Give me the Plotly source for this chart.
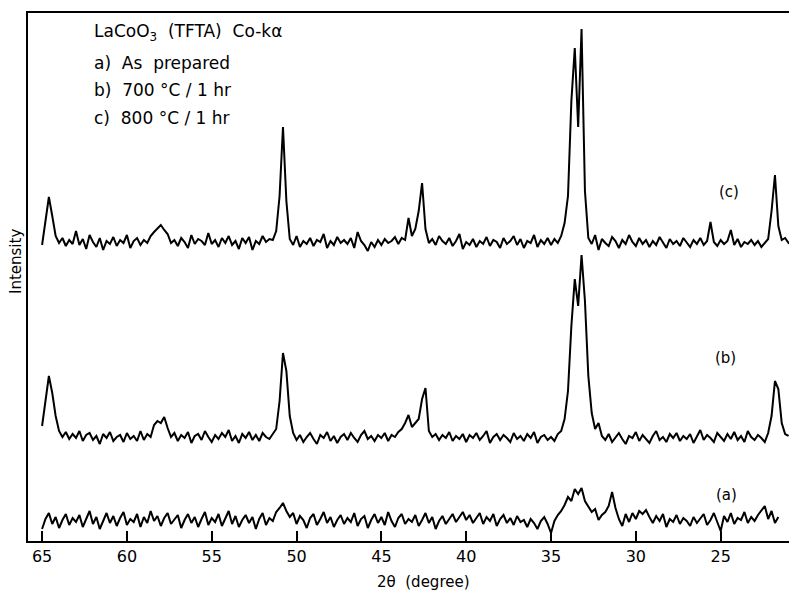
import plotly.graph_objects as go

# 2-theta grid (degrees), step 0.2 from 65.0 downward
two_theta = [round(65.0 - 0.2 * i, 1) for i in range(222)]

# (c) 800 C / 1 hr
intensity_c = [
    296, 318, 344, 325, 305, 298, 303, 295, 301, 297,
    310, 296, 302, 292, 306, 299, 294, 303, 291, 300,
    297, 304, 295, 301, 298, 306, 293, 300, 303, 296,
    301, 298, 305, 309, 312, 316, 311, 307, 298, 301,
    295, 303, 299, 293, 306, 297, 302, 300, 296, 308,
    297, 301, 294, 303, 298, 305, 296, 300, 292, 303,
    298, 304, 291, 300, 297, 305, 299, 302, 301, 310,
    345, 414, 340, 302, 296, 305, 294, 300, 297, 303,
    295, 301, 299, 307, 293, 300, 296, 304, 298, 301,
    297, 303, 293, 309, 300, 296, 290, 299, 294, 301,
    296, 302, 298, 300, 304, 297, 303, 301, 323, 305,
    312, 330, 358, 312, 298, 302, 296, 305, 300, 297,
    303, 295, 300, 307, 292, 299, 296, 302, 294, 300,
    297, 304, 295, 301, 299, 293, 303, 297, 300, 305,
    296, 302, 293, 300, 298, 306, 294, 301, 297, 303,
    296, 302, 298, 305, 318, 345, 440, 493, 414, 512,
    350, 303, 297, 306, 291, 302, 298, 295, 304, 300,
    293, 301, 297, 306, 299, 295, 303, 297, 301, 294,
    300, 296, 304, 298, 293, 302, 297, 300, 295, 303,
    298, 294, 301, 297, 303, 296, 300, 319, 299, 295,
    301, 297, 300, 311, 296, 302, 294, 299, 297, 301,
    296, 300, 294, 298, 302, 330, 366, 315, 301, 303,
    298, 300,
]

# (b) 700 C / 1 hr
intensity_b = [
    115, 140, 165, 148, 125, 110, 104, 109, 102, 107,
    103, 110, 100, 106, 108, 101, 105, 97, 107, 103,
    109, 100, 104, 106, 99, 108, 102, 105, 100, 110,
    101, 107, 104, 116, 120, 118, 124, 113, 104, 108,
    100, 106, 103, 109, 98, 105, 107, 101, 110, 104,
    99, 106, 102, 108, 104, 111, 100, 105, 98, 107,
    103, 109, 101, 106, 100, 108, 104, 102, 107, 112,
    140, 188, 170, 125, 108, 101, 106, 99, 104, 108,
    102, 97, 106, 103, 109, 100, 105, 98, 104, 107,
    101, 108, 103, 99, 106, 110, 102, 105, 100, 106,
    103, 108, 100, 106, 104, 109, 112, 118, 126, 114,
    118, 122, 142, 153, 110, 104, 107, 101, 106, 103,
    109, 100, 105, 102, 107, 99, 106, 103, 108, 101,
    105, 110, 98, 104, 107, 101, 106, 103, 99, 108,
    102, 105, 100, 107, 103, 109, 98, 104, 106, 101,
    104, 100, 107, 110, 122, 150, 215, 262, 235, 286,
    240, 165, 128, 112, 118, 105, 101, 107, 99, 104,
    108, 102, 97, 105, 103, 109, 100, 106, 102, 98,
    105, 110, 101, 104, 99, 107, 103, 108, 100, 105,
    102, 107, 98, 104, 111, 101, 106, 103, 99, 108,
    104, 100, 107, 102, 109, 101, 105, 99, 110, 104,
    101, 106, 103, 99, 108, 125, 160, 152, 118, 107,
    105,
]

# (a) as prepared
intensity_a = [
    12, 22, 28, 17, 24, 13, 21, 27, 16, 23,
    19, 26, 14, 22, 30, 17, 24, 12, 21, 28,
    18, 25, 15, 23, 29, 16, 22, 19, 27, 14,
    24, 18, 30, 20, 25, 15, 23, 28, 17, 22,
    26, 13, 21, 27, 18, 24, 14, 22, 29, 16,
    23, 19, 27, 15, 22, 30, 17, 25, 14, 21,
    26, 18, 24, 12, 22, 28, 16, 23, 20, 29,
    33, 38, 30, 24, 28, 17, 25, 21, 13, 23,
    27, 16, 22, 29, 18, 24, 14, 21, 26, 17,
    23, 19, 28, 15, 22, 25, 13, 21, 27, 18,
    24, 16, 29, 20, 14, 23, 27, 17, 22, 19,
    26, 15, 21, 28, 18, 24, 12, 20, 25, 17,
    22, 27, 19, 24, 29, 21, 26, 18, 23, 28,
    17, 24, 20, 27, 15, 22, 26, 18, 23, 16,
    25, 19, 21, 14, 22, 18, 12, 20, 24, 17,
    8, 20, 26, 30, 36, 44, 40, 52, 47, 53,
    40, 35, 29, 32, 21, 26, 29, 35, 49, 33,
    22, 15, 27, 19, 28, 22, 30, 27, 31, 24,
    18, 25, 20, 27, 14, 22, 19, 26, 17, 23,
    20, 15, 24, 18, 22, 27, 16, 21, 28, 19,
    10, 25, 19, 28, 17, 23, 21, 29, 18, 24,
    20, 26, 30, 35, 22, 30, 18, 24,
]

x_ticks = [65, 60, 55, 50, 45, 40, 35, 30, 25]
series_labels = ["(a)", "(b)", "(c)"]
legend_lines = [
    "LaCoO<sub>3</sub>  (TFTA)  Co-kα",
    "a)  As  prepared",
    "b)  700 °C / 1 hr",
    "c)  800 °C / 1 hr",
]

FONT = "DejaVu Sans"
fig = go.Figure()
for ys in (intensity_a, intensity_b, intensity_c):
    fig.add_trace(go.Scatter(
        x=two_theta[:len(ys)], y=ys, mode="lines",
        line=dict(color="black", width=2), showlegend=False,
        hoverinfo="skip",
    ))

OFF = 8  # page body margin
W, H = 797 - OFF, 593 - OFF
L, T = 28 - OFF, 13 - OFF
R = 0
B = H - (541 - OFF)
pw, ph = W - L - R, H - T - B

def px(x):
    return (x - OFF - L) / pw

def py(y):
    return (H - B - (y - OFF)) / ph

ann = []
legend_y = [33, 63, 90, 118]
for txt, yy in zip(legend_lines, legend_y):
    ann.append(dict(x=px(92), y=py(yy), xref="paper", yref="paper",
                    text=txt, showarrow=False, xanchor="left", yanchor="middle",
                    font=dict(family=FONT, size=17, color="black")))
for txt, (xx, yy) in zip(series_labels, [(726, 495), (725, 358), (729, 192)]):
    ann.append(dict(x=px(xx), y=py(yy), xref="paper", yref="paper",
                    text=txt, showarrow=False, xanchor="center", yanchor="middle",
                    font=dict(family=FONT, size=15, color="black")))
ann.append(dict(x=px(423), y=py(582), xref="paper", yref="paper",
                text="2θ  (degree)", showarrow=False, xanchor="center", yanchor="middle",
                font=dict(family=FONT, size=15, color="black")))
ann.append(dict(x=px(16), y=py(262), xref="paper", yref="paper",
                text="Intensity", textangle=-90, showarrow=False,
                xanchor="center", yanchor="middle",
                font=dict(family=FONT, size=15, color="black")))

fig.update_layout(
    width=W, height=H,
    margin=dict(l=L, r=R, t=T, b=B, autoexpand=False),
    paper_bgcolor="white", plot_bgcolor="white",
    annotations=ann,
    xaxis=dict(range=[65.83, 20.5], tickvals=x_ticks,
               ticktext=[str(v) for v in x_ticks],
               ticks="inside", ticklen=10, tickwidth=2, tickcolor="black",
               showline=True, linecolor="black", linewidth=2, mirror=True,
               showgrid=False, zeroline=False,
               tickfont=dict(family=FONT, size=16, color="black")),
    yaxis=dict(range=[0, 528], showticklabels=False, ticks="",
               showline=True, linecolor="black", linewidth=2, mirror=False,
               showgrid=False, zeroline=False),
)

fig.write_html("out.html")
